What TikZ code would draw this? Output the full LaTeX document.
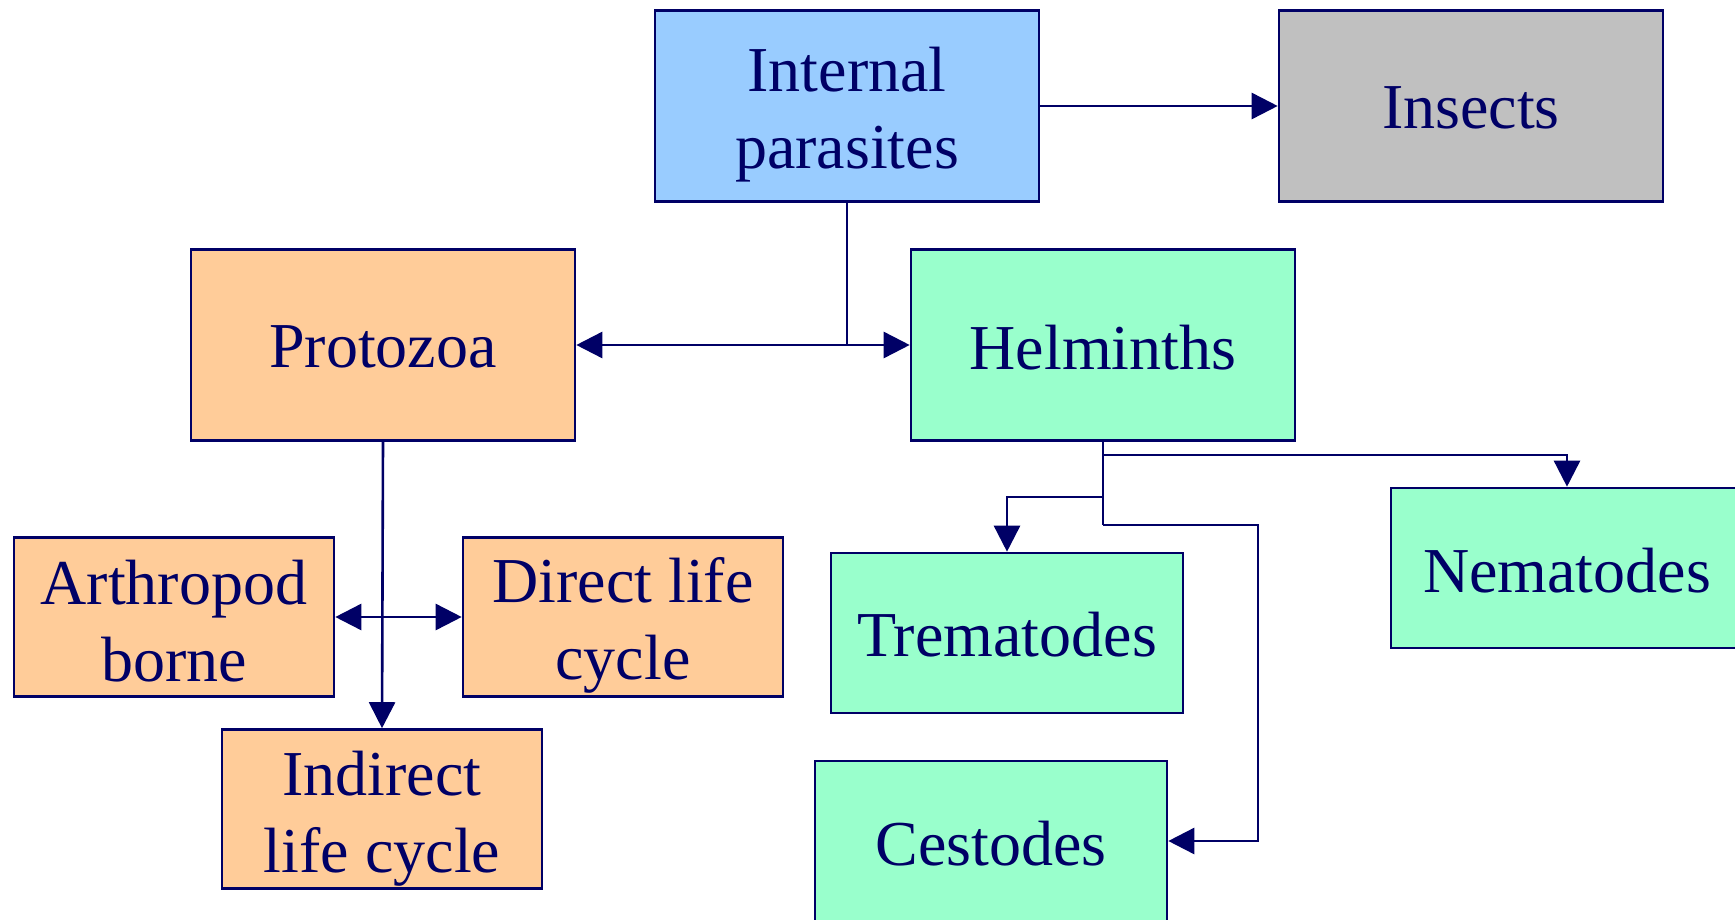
\documentclass[tikz,border=0pt]{standalone}
\usepackage{fontspec}
\setmainfont{Liberation Serif}
\usetikzlibrary{arrows.meta}
\definecolor{navy}{HTML}{000066}
\definecolor{bluefill}{HTML}{99CCFF}
\definecolor{greyfill}{HTML}{C0C0C0}
\definecolor{orangefill}{HTML}{FFCC99}
\definecolor{greenfill}{HTML}{99FFCC}
\tikzset{
  box/.style={draw=navy, line width=1.3pt, inner sep=0pt},
  bigbox/.style={box, minimum width=192pt, minimum height=95.5pt},
  smallbox/.style={box, minimum width=160pt, minimum height=79.5pt},
  midbox/.style={box, minimum width=176pt, minimum height=80pt},
  txt/.style={text=navy, align=center, inner sep=0pt, font=\fontsize{32}{38.5}\selectfont},
  conn/.style={draw=navy, line width=1.3pt, -{Triangle[length=13pt,width=13pt]}},
  conn2/.style={draw=navy, line width=1.3pt, {Triangle[length=13pt,width=13pt]}-{Triangle[length=13pt,width=13pt]}},
  plain/.style={draw=navy, line width=1.3pt}
}
\begin{document}
\begin{tikzpicture}[x=0.5pt,y=-0.5pt]
\useasboundingbox (0,0) rectangle (1735,920);
\node[bigbox, fill=bluefill] (ip) at (847,106) {};
\node[bigbox, fill=greyfill] (ins) at (1471,106) {};
\node[bigbox, fill=orangefill] (pro) at (383,345) {};
\node[bigbox, fill=greenfill] (hel) at (1103,345) {};
\node[smallbox, fill=orangefill] (arth) at (174,617) {};
\node[smallbox, fill=orangefill] (dir) at (623,617) {};
\node[smallbox, fill=orangefill] (ind) at (382,809) {};
\node[midbox, fill=greenfill] (tre) at (1007,633) {};
\node[midbox, fill=greenfill] (nem) at (1567,568) {};
\node[midbox, fill=greenfill] (ces) at (991,841) {};

\node[txt] (ipt) at ([yshift=-4.5pt]ip.center) {Internal\\parasites};
\node[txt] (inst) at ([yshift=-0.7pt]ins.center) {Insects};
\node[txt] (prot) at ([yshift=-1.1pt]pro.center) {Protozoa};
\node[txt] (helt) at ([yshift=-1.1pt]hel.center) {Helminths};
\node[txt] (artht) at ([yshift=-2pt]arth.center) {Arthropod\\borne};
\node[txt] (dirt) at ([yshift=-4pt]dir.center) {Direct life\\cycle};
\node[txt] (indt) at ([yshift=-5pt]ind.center) {Indirect\\life cycle};
\node[txt] (tret) at ([yshift=-1pt]tre.center) {Trematodes};
\node[txt] (nemt) at ([yshift=-1.5pt]nem.center) {Nematodes};
\node[txt] (cest) at ([yshift=-1.5pt]ces.center) {Cestodes};

\coordinate (j1) at (847,345);
\coordinate (h1) at (1103,455);
\coordinate (h2) at (1103,497);
\coordinate (h3) at (1103,525);
\coordinate (h4) at (1258,525);

\draw[conn] (ip.east) -- (ins.west);
\draw[plain] (ip.south) -- (j1);
\draw[conn2] (pro.east) -- (hel.west);
\draw[conn] (pro.south) -- (ind.north);
\draw[conn2] (arth.east) -- (dir.west);
\draw[plain] (hel.south) -- (h3);
\draw[conn] (h1) -| (nem.north);
\draw[conn] (h2) -| (tre.north);
\draw[conn] (h3) -- (h4) |- (ces.east);
\end{tikzpicture}
\end{document}
